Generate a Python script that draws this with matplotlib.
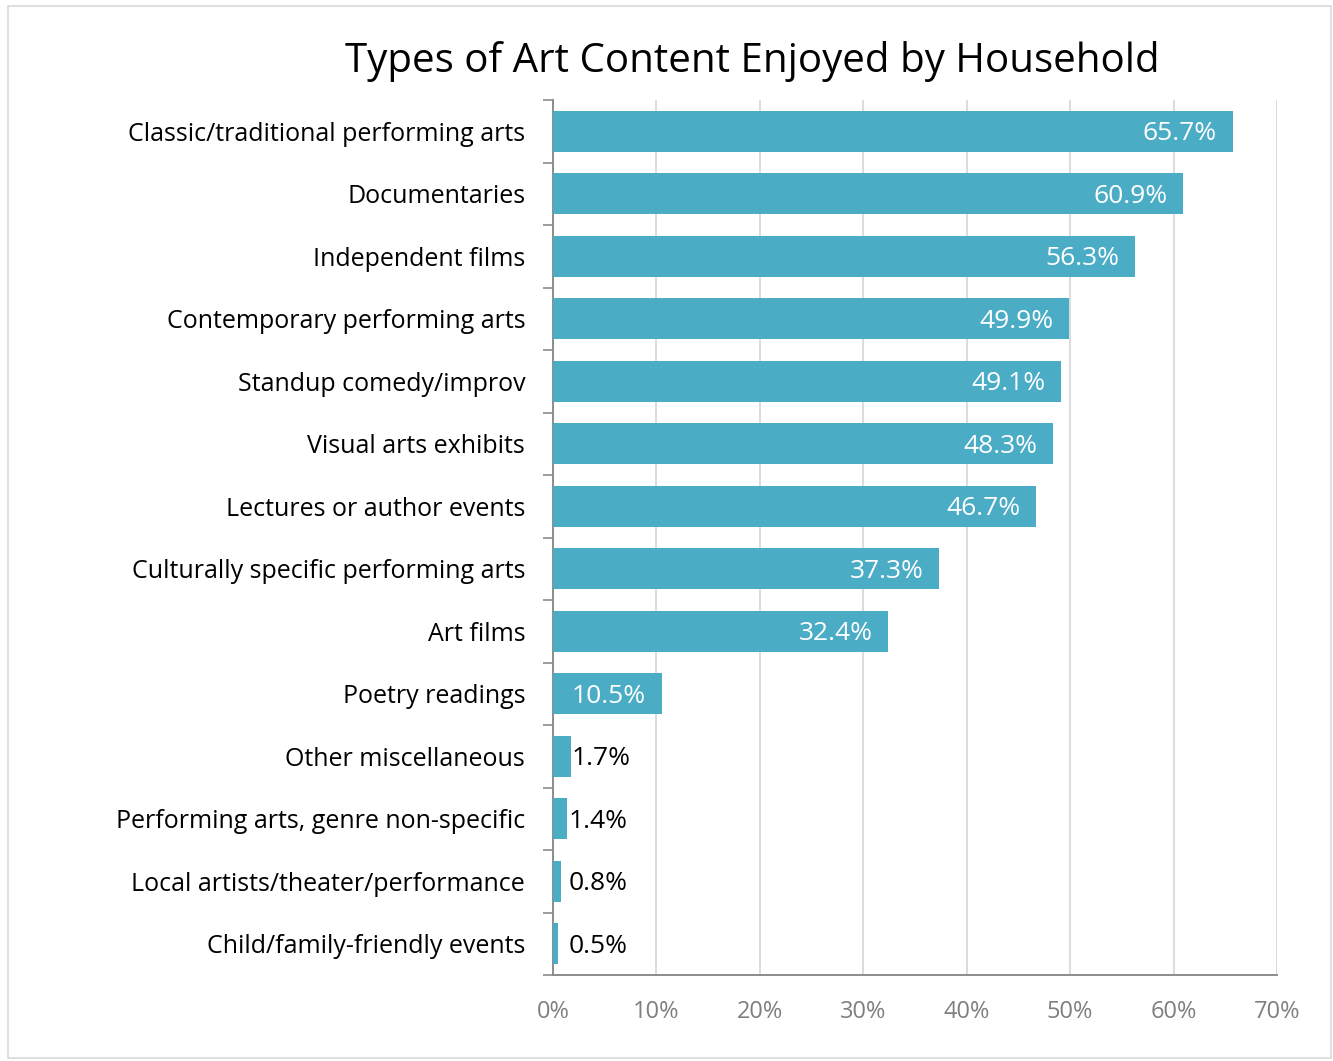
import numpy as np
import matplotlib.pyplot as plt
from matplotlib.patches import Rectangle

plt.rcParams['font.family'] = ['Open Sans', 'DejaVu Sans']

categories = [
    "Classic/traditional performing arts",
    "Documentaries",
    "Independent films",
    "Contemporary performing arts",
    "Standup comedy/improv",
    "Visual arts exhibits",
    "Lectures or author events",
    "Culturally specific performing arts",
    "Art films",
    "Poetry readings",
    "Other miscellaneous",
    "Performing arts, genre non-specific",
    "Local artists/theater/performance",
    "Child/family-friendly events",
]
values = [65.7, 60.9, 56.3, 49.9, 49.1, 48.3, 46.7, 37.3, 32.4, 10.5, 1.7, 1.4, 0.8, 0.5]
x_ticks = [0, 10, 20, 30, 40, 50, 60, 70]

BAR = '#4BACC6'
GRID = '#D9D9D9'
AXIS = '#8C8C8C'

W, H = 1333, 1061
fig = plt.figure(figsize=(W / 100, H / 100), dpi=100)
ax = fig.add_axes([553 / W, 1 - 975 / H, (1277 - 553) / W, (975 - 100) / H])

y = np.arange(len(categories))
ax.barh(y, values, height=0.66, color=BAR, zorder=3)
ax.set_ylim(len(categories) - 0.5, -0.5)
ax.set_xlim(0, 70)

ax.set_yticks(y)
ax.set_yticklabels(categories, fontsize=18, color='black')
ax.set_yticks(np.arange(len(categories) + 1) - 0.5, minor=True)
ax.tick_params(axis='y', which='major', length=0, pad=20)
ax.tick_params(axis='y', which='minor', length=7, width=1.2, color=AXIS)

ax.set_xticks(x_ticks)
ax.set_xticklabels([f"{t}%" for t in x_ticks], fontsize=17, color='#7F7F7F')
ax.tick_params(axis='x', length=0, pad=18)
ax.grid(axis='x', color=GRID, linewidth=1.3, zorder=0)

for side in ('top', 'right'):
    ax.spines[side].set_visible(False)
for side in ('left', 'bottom'):
    ax.spines[side].set_color(AXIS)
    ax.spines[side].set_linewidth(1.4)

# value labels: white inside the bar end for big values, black just past small bars
for yi, v in zip(y, values):
    if v > 5:
        ax.text(v - 1.5, yi + 0.04, f"{v}%", ha='right', va='center',
                color='white', fontsize=19, zorder=4)
    else:
        ax.text(max(v, 1.5) + 0.05, yi + 0.04, f"{v}%", ha='left', va='center',
                color='black', fontsize=19, zorder=4)

fig.text(752 / W, 1 - 61 / H, "Types of Art Content Enjoyed by Household",
         ha='center', va='center', fontsize=29)

fig.patches.append(Rectangle((8 / W, 3 / H), 1323 / W, 1052 / H, transform=fig.transFigure,
                             fill=False, edgecolor='#D9D9D9', linewidth=1.2))

fig.savefig('out.png', dpi=100)
